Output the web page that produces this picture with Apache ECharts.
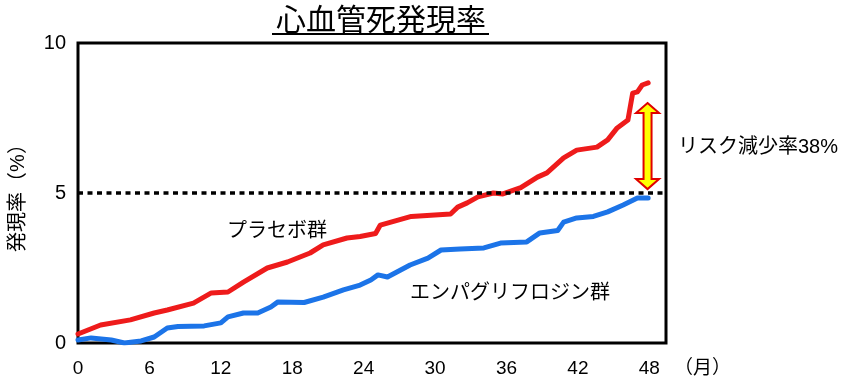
<!DOCTYPE html>
<html>
<head>
<meta charset="utf-8">
<script src="https://cdn.jsdelivr.net/npm/echarts@6/dist/echarts.min.js"></script>
<style>
html,body{margin:0;padding:0;background:#fff;}
#chart{width:850px;height:386px;}
</style>
</head>
<body>
<div id="chart"></div>
<script>
// ---- data ----
const xTicks = [0, 6, 12, 18, 24, 30, 36, 42, 48];
const yTicks = [0, 5, 10];

const placeboMonths = [0, 1.9, 4.4, 6.4, 7.5, 9.7, 11.2, 12.6, 13.9, 15.9, 17.6, 19.5, 20.6, 22.6, 23.7, 25.0, 25.4, 28.0, 31.3, 31.9, 32.7, 33.6, 34.9, 35.7, 37.2, 38.6, 39.4, 40.8, 41.9, 43.6, 44.5, 45.3, 46.2, 46.6, 47.0, 47.4, 47.9];
const placeboValues = [0.3, 0.6, 0.77, 1.0, 1.1, 1.33, 1.67, 1.7, 2.03, 2.5, 2.7, 3.0, 3.27, 3.5, 3.55, 3.65, 3.93, 4.22, 4.3, 4.53, 4.67, 4.87, 5.0, 4.97, 5.18, 5.53, 5.67, 6.17, 6.43, 6.53, 6.77, 7.17, 7.43, 8.33, 8.37, 8.6, 8.67];

const empaMonths = [0, 1.1, 2.8, 3.9, 5.3, 6.4, 7.5, 8.4, 10.6, 12.0, 12.6, 13.9, 15.1, 16.2, 16.8, 19.0, 20.6, 22.3, 23.7, 24.6, 25.2, 26.0, 27.9, 29.4, 30.5, 32.1, 34.1, 35.5, 37.7, 38.8, 40.3, 40.8, 41.9, 43.3, 44.5, 45.8, 47.0, 47.9];
const empaValues = [0.1, 0.17, 0.1, 0.0, 0.07, 0.2, 0.5, 0.55, 0.57, 0.67, 0.87, 1.0, 1.0, 1.2, 1.37, 1.35, 1.53, 1.77, 1.93, 2.1, 2.27, 2.2, 2.6, 2.83, 3.1, 3.13, 3.17, 3.33, 3.37, 3.67, 3.75, 4.03, 4.17, 4.22, 4.37, 4.6, 4.83, 4.83];

const refLineValue = 5;
// arrow: [month, lower end, upper end]
const arrowData = [[47.85, 5.13, 8.0]];

const titleText = '心血管死発現率';
const yName = '発現率（%）';
const xName = '（月）';
const placeboLabel = 'プラセボ群';
const empaLabel = 'エンパグリフロジン群';
const riskLabel = 'リスク減少率38%';

// ---- chart ----
const FONT = '"Liberation Sans", Arial, "Noto Sans CJK JP", sans-serif';
const chart = echarts.init(document.getElementById('chart'), null, {renderer: 'canvas'});

function zip(xs, ys) { return xs.map((x, i) => [x, ys[i]]); }

const option = {
  animation: false,
  backgroundColor: '#fff',
  title: {
    text: titleText,
    left: 271,
    top: 2,
    textStyle: {fontFamily: FONT, fontSize: 30, fontWeight: 'normal', color: '#000'}
  },
  grid: {
    left: 77, right: 184, top: 43, bottom: 43,
    show: true, borderColor: '#000', borderWidth: 3, backgroundColor: 'transparent'
  },
  xAxis: {
    type: 'value', min: 0, max: 49.4, interval: 6,
    name: xName, nameLocation: 'end', nameGap: 8,
    nameTextStyle: {fontFamily: FONT, fontSize: 19, color: '#000', align: 'left', verticalAlign: 'top', padding: [16, 0, 0, 0]},
    axisLine: {show: false}, axisTick: {show: false}, splitLine: {show: false},
    axisLabel: {
      fontFamily: FONT, fontSize: 19, color: '#000', margin: 16, showMaxLabel: false,
      formatter: v => (xTicks.indexOf(v) >= 0 ? String(v) : '')
    }
  },
  yAxis: {
    type: 'value', min: 0, max: 10, interval: 5,
    name: yName, nameLocation: 'middle', nameRotate: 90, nameGap: 50,
    nameTextStyle: {fontFamily: FONT, fontSize: 20, color: '#000'},
    axisLine: {show: false}, axisTick: {show: false}, splitLine: {show: false},
    axisLabel: {
      fontFamily: FONT, fontSize: 20, color: '#000', margin: 12,
      formatter: v => (yTicks.indexOf(v) >= 0 ? String(v) : '')
    }
  },
  graphic: [
    {type: 'line', shape: {x1: 272, y1: 34, x2: 489, y2: 34}, style: {stroke: '#000', lineWidth: 2}},
    {type: 'text', left: 227, top: 221, style: {text: placeboLabel, font: '20px ' + FONT, fill: '#000'}},
    {type: 'text', left: 410, top: 283, style: {text: empaLabel, font: '20px ' + FONT, fill: '#000'}},
    {type: 'text', left: 678, top: 137, style: {text: riskLabel, font: '20px ' + FONT, fill: '#000'}}
  ],
  series: [
    {
      name: 'empa', type: 'line', data: zip(empaMonths, empaValues),
      showSymbol: false, symbol: 'none', smooth: false,
      lineStyle: {color: '#1C74E8', width: 5, join: 'round', cap: 'round'},
      z: 3,
      markLine: {
        silent: true, symbol: 'none', label: {show: false},
        lineStyle: {color: '#000', type: [5, 4.5], width: 3.5},
        data: [{yAxis: refLineValue}]
      }
    },
    {
      name: 'placebo', type: 'line', data: zip(placeboMonths, placeboValues),
      showSymbol: false, symbol: 'none', smooth: false,
      lineStyle: {color: '#EE1B1B', width: 5, join: 'round', cap: 'round'},
      z: 4
    },
    {
      name: 'arrow', type: 'custom', data: arrowData, z: 5,
      renderItem: function (params, api) {
        const top = api.coord([api.value(0), api.value(2)]);
        const bot = api.coord([api.value(0), api.value(1)]);
        const x = top[0], y1 = top[1], y2 = bot[1];
        const hw = 11.5, hh = 10, sw = 4;
        return {
          type: 'polygon',
          shape: {points: [
            [x, y1], [x + hw, y1 + hh], [x + sw, y1 + hh], [x + sw, y2 - hh], [x + hw, y2 - hh],
            [x, y2], [x - hw, y2 - hh], [x - sw, y2 - hh], [x - sw, y1 + hh], [x - hw, y1 + hh]
          ]},
          style: {fill: '#FFFF00', stroke: '#E00000', lineWidth: 2}
        };
      }
    }
  ]
};
chart.setOption(option);
</script>
</body>
</html>
